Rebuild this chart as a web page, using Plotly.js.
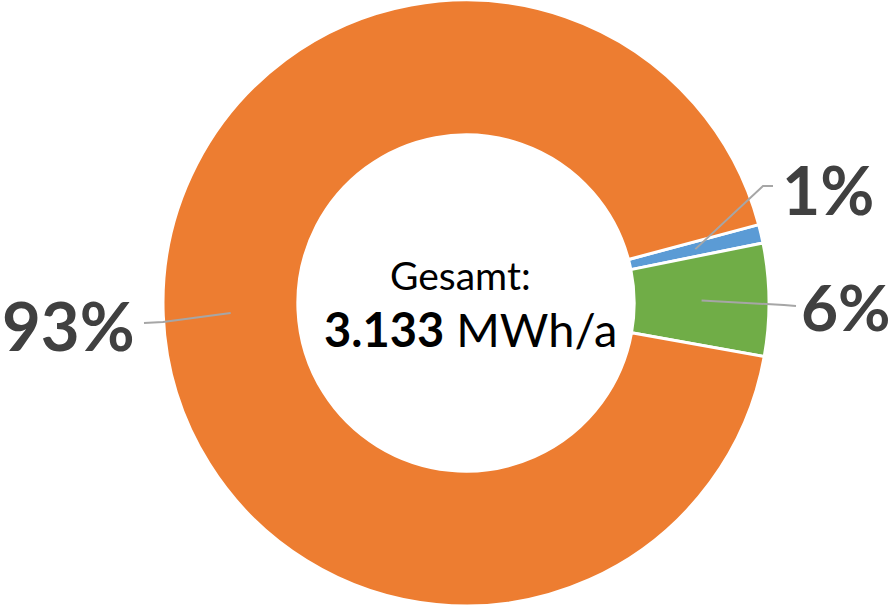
<!DOCTYPE html>
<html>
<head>
<meta charset="utf-8">
<script src="https://cdn.plot.ly/plotly-3.0.1.min.js"></script>
<style>
  html, body { margin: 0; padding: 0; background: #ffffff; }
  #chart { width: 896px; height: 606px; }
</style>
</head>
<body>
<div id="chart"></div>
<script>
// ---- Data (MWh/a) ----
const categories = ["Kategorie A", "Kategorie B", "Kategorie C"];
const values = [31, 188, 2914];
const colors = ["#5B9BD5", "#70AD47", "#ED7D31"];
const centerTitle = "Gesamt:";
const unit = "MWh/a";

// ---- Layout constants ----
const W = 896, H = 606;
const domX = [0.0402, 1.0];
const hole = 0.555;
const rotation = 75;
const labelColor = "#404040";
const leaderColor = "#A6A6A6";
const fontFam = "Lato, 'Open Sans', sans-serif";
// label placement (pixels): elbow point, end point, text anchor, font size
const labelLayout = [
  { elbow: [763, 186], end: [773, 186], tx: 780, ty: 189, anchor: "left", size: 66 },
  { elbow: [784, 305], end: [796, 306], tx: 799, ty: 306, anchor: "left", size: 64 },
  { elbow: [163, 322], end: [144, 323], tx: 137, ty: 325, anchor: "right", size: 67 }
];

const total = values.reduce((a, b) => a + b, 0);
const cx = (domX[0] + domX[1]) / 2 * W;
const cy = H / 2;
const R = Math.min((domX[1] - domX[0]) * W, H) / 2;
const rMid = R * (1 + hole) / 2;

const px = x => x / W;
const py = y => 1 - y / H;

const shapes = [];
const annotations = [];
let cum = 0;
values.forEach((v, i) => {
  const a = (rotation + (cum + v / 2) / total * 360) * Math.PI / 180;
  cum += v;
  const ax = cx + rMid * Math.sin(a);
  const ay = cy - rMid * Math.cos(a);
  const L = labelLayout[i];
  shapes.push({
    type: "path", xref: "paper", yref: "paper",
    path: `M ${px(ax)} ${py(ay)} L ${px(L.elbow[0])} ${py(L.elbow[1])} L ${px(L.end[0])} ${py(L.end[1])}`,
    line: { color: leaderColor, width: 2 }
  });
  annotations.push({
    xref: "paper", yref: "paper", x: px(L.tx), y: py(L.ty),
    xanchor: L.anchor, yanchor: "middle", showarrow: false,
    text: "<b>" + Math.round(v / total * 100) + "%</b>",
    font: { family: fontFam, size: L.size, color: labelColor }
  });
});

const totalStr = total.toLocaleString("de-DE");
annotations.push({
  xref: "paper", yref: "paper", x: px(cx - 6), y: py(275),
  xanchor: "center", yanchor: "middle", showarrow: false,
  text: centerTitle, font: { family: fontFam, size: 39, color: "#000000" }
});
annotations.push({
  xref: "paper", yref: "paper", x: px(cx + 4), y: py(329),
  xanchor: "center", yanchor: "middle", showarrow: false,
  text: "<b>" + totalStr + "</b> " + unit,
  font: { family: fontFam, size: 47, color: "#000000" }
});

const trace = {
  type: "pie",
  labels: categories,
  values: values,
  hole: hole,
  sort: false,
  direction: "clockwise",
  rotation: rotation,
  textinfo: "none",
  marker: { colors: colors, line: { color: "#ffffff", width: 3 } },
  domain: { x: domX, y: [0, 1] },
  showlegend: false
};

Plotly.newPlot("chart", [trace], {
  width: W, height: H,
  margin: { l: 0, r: 0, t: 0, b: 0, pad: 0 },
  paper_bgcolor: "#ffffff",
  showlegend: false,
  shapes: shapes,
  annotations: annotations
}, { displayModeBar: false, staticPlot: true });
</script>
</body>
</html>
